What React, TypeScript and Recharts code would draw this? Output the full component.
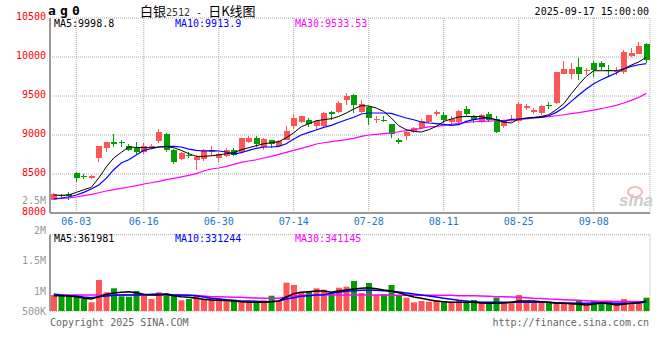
import { Bar, CartesianGrid, Cell, ComposedChart, Line, XAxis, YAxis } from 'recharts';

// trading days shown (MM-DD)
const dates = [
  '05-28', '05-29', '05-30', '06-03', '06-04', '06-05', '06-06', '06-09', '06-10', '06-11',
  '06-12', '06-13', '06-16', '06-17', '06-18', '06-19', '06-20', '06-23', '06-24', '06-25',
  '06-26', '06-27', '06-30', '07-01', '07-02', '07-03', '07-04', '07-07', '07-08', '07-09',
  '07-10', '07-11', '07-14', '07-15', '07-16', '07-17', '07-18', '07-21', '07-22', '07-23',
  '07-24', '07-25', '07-28', '07-29', '07-30', '07-31', '08-01', '08-04', '08-05', '08-06',
  '08-07', '08-08', '08-11', '08-12', '08-13', '08-14', '08-15', '08-18', '08-19', '08-20',
  '08-21', '08-22', '08-25', '08-26', '08-27', '08-28', '08-29', '09-01', '09-02', '09-03',
  '09-04', '09-05', '09-08', '09-09', '09-10', '09-11', '09-12', '09-15', '09-16', '09-17',
];

const opens = [
  8170, 8232, 8247, 8513, 8478, 8444, 8709, 8837, 8905, 8914,
  8854, 8828, 8777, 8846, 8923, 9017, 8812, 8692, 8743, 8683,
  8692, 8786, 8709, 8726, 8803, 8786, 8914, 8956, 8846, 8940,
  8863, 8940, 9110, 9170, 9196, 9110, 9119, 9290, 9299, 9444,
  9516, 9290, 9359, 9188, 9196, 9145, 8931, 8982, 9042, 9094,
  9162, 9273, 9256, 9170, 9170, 9336, 9238, 9170, 9273, 9205,
  9119, 9179, 9175, 9341, 9290, 9282, 9385, 9410, 9786, 9786,
  9872, 9820, 9919, 9919, 9833, 9803, 9803, 10008, 10042, 10162,
];
const highs = [
  8256, 8248, 8264, 8522, 8500, 8488, 8863, 8916, 9017, 8940,
  8888, 8914, 8897, 8880, 9077, 9026, 8820, 8777, 8786, 8743,
  8820, 8863, 8769, 8828, 8828, 8965, 8982, 8982, 8956, 8940,
  8931, 9119, 9273, 9238, 9213, 9196, 9290, 9308, 9436, 9538,
  9529, 9452, 9376, 9238, 9247, 9145, 8965, 9068, 9102, 9205,
  9260, 9324, 9299, 9238, 9316, 9376, 9260, 9264, 9290, 9238,
  9196, 9260, 9427, 9393, 9341, 9385, 9418, 9811, 9949, 9923,
  9991, 9854, 9949, 9949, 9897, 9872, 10085, 10110, 10187, 10179,
];
const lows = [
  8162, 8180, 8165, 8400, 8440, 8436, 8649, 8777, 8846, 8846,
  8795, 8751, 8760, 8820, 8897, 8777, 8632, 8674, 8709, 8546,
  8667, 8726, 8658, 8718, 8726, 8769, 8897, 8846, 8812, 8837,
  8854, 8931, 9077, 9154, 9102, 9068, 9085, 9196, 9282, 9385,
  9282, 9282, 9128, 9154, 9170, 8956, 8880, 8940, 9026, 9085,
  9154, 9238, 9154, 9132, 9145, 9238, 9154, 9154, 9170, 9026,
  9085, 9167, 9154, 9316, 9273, 9256, 9333, 9392, 9777, 9718,
  9709, 9773, 9744, 9837, 9744, 9769, 9786, 10000, 10033, 9923,
];
const closes = [
  8238, 8215, 8213, 8444, 8465, 8478, 8854, 8914, 8880, 8897,
  8812, 8786, 8863, 8863, 9042, 8812, 8658, 8769, 8726, 8718,
  8803, 8803, 8751, 8812, 8744, 8956, 8956, 8888, 8949, 8880,
  8923, 9051, 9213, 9238, 9145, 9179, 9282, 9264, 9410, 9495,
  9379, 9401, 9213, 9205, 9179, 9017, 8914, 9042, 9085, 9179,
  9260, 9290, 9196, 9205, 9307, 9273, 9196, 9256, 9188, 9042,
  9179, 9196, 9401, 9367, 9324, 9376, 9367, 9803, 9846, 9846,
  9786, 9837, 9833, 9876, 9816, 9820, 10068, 10051, 10145, 9965,
];

const ma5 = [
  8231, 8226, 8231, 8264, 8299, 8328, 8449, 8590, 8705, 8777,
  8846, 8841, 8837, 8837, 8846, 8850, 8837, 8803, 8760, 8726,
  8726, 8733, 8746, 8760, 8773, 8811, 8837, 8863, 8888, 8901,
  8914, 8965, 9029, 9106, 9145, 9183, 9196, 9209, 9238, 9282,
  9333, 9376, 9372, 9346, 9302, 9218, 9119, 9068, 9046, 9038,
  9068, 9110, 9174, 9205, 9231, 9238, 9238, 9235, 9218, 9196,
  9164, 9154, 9205, 9213, 9226, 9238, 9260, 9324, 9401, 9529,
  9645, 9751, 9824, 9824, 9824, 9824, 9846, 9897, 9936, 9998.8,
];
const ma10 = [
  8183, 8192, 8205, 8231, 8264, 8308, 8359, 8444, 8555, 8641,
  8683, 8744, 8803, 8824, 8846, 8854, 8854, 8846, 8820, 8803,
  8795, 8799, 8795, 8782, 8756, 8773, 8803, 8828, 8846, 8846,
  8854, 8888, 8949, 9000, 9033, 9064, 9097, 9123, 9161, 9196,
  9228, 9269, 9282, 9282, 9282, 9277, 9247, 9218, 9196, 9167,
  9154, 9145, 9136, 9123, 9132, 9174, 9196, 9213, 9218, 9196,
  9175, 9200, 9205, 9218, 9222, 9226, 9247, 9290, 9350, 9431,
  9513, 9590, 9658, 9709, 9751, 9795, 9846, 9879, 9901, 9913.9,
];
const ma30 = [
  8181, 8186, 8192, 8205, 8222, 8238, 8260, 8282, 8299, 8315,
  8333, 8350, 8372, 8388, 8405, 8427, 8444, 8462, 8482, 8504,
  8538, 8564, 8577, 8597, 8623, 8649, 8667, 8683, 8705, 8726,
  8751, 8777, 8803, 8828, 8854, 8885, 8901, 8914, 8927, 8940,
  8956, 8982, 9000, 9008, 9017, 9026, 9042, 9055, 9068, 9085,
  9103, 9110, 9123, 9136, 9149, 9162, 9170, 9174, 9179, 9183,
  9187, 9192, 9200, 9205, 9218, 9226, 9235, 9247, 9260, 9273,
  9286, 9303, 9320, 9337, 9359, 9379, 9410, 9444, 9482, 9533.53,
];

const vols = [
  507000, 490000, 490000, 466000, 408000, 327000, 879000, 574000, 673000, 475000,
  466000, 606000, 507000, 408000, 574000, 550000, 490000, 376000, 408000, 490000,
  408000, 426000, 426000, 342000, 359000, 359000, 327000, 327000, 376000, 490000,
  359000, 812000, 755000, 589000, 606000, 673000, 639000, 540000, 688000, 713000,
  854000, 557000, 804000, 507000, 525000, 755000, 490000, 441000, 327000, 359000,
  342000, 384000, 359000, 327000, 384000, 327000, 384000, 327000, 302000, 441000,
  327000, 327000, 507000, 359000, 327000, 327000, 327000, 327000, 302000, 327000,
  376000, 277000, 359000, 327000, 327000, 292000, 408000, 302000, 327000, 441000,
];
const vma5 = [
  490000, 490000, 483000, 465000, 426000, 408000, 465000, 525000, 557000, 574000,
  589000, 564000, 525000, 507000, 507000, 525000, 490000, 465000, 450000, 426000,
  401000, 384000, 376000, 366000, 359000, 342000, 327000, 327000, 327000, 342000,
  359000, 458000, 540000, 574000, 589000, 606000, 606000, 574000, 606000, 631000,
  656000, 673000, 688000, 663000, 631000, 606000, 564000, 507000, 458000, 426000,
  391000, 359000, 342000, 327000, 327000, 327000, 327000, 309000, 302000, 302000,
  309000, 327000, 359000, 359000, 359000, 342000, 327000, 302000, 302000, 292000,
  277000, 260000, 277000, 309000, 292000, 260000, 277000, 302000, 317000, 361981,
];
const vma10 = [
  532000, 507000, 490000, 483000, 458000, 441000, 465000, 483000, 500000, 507000,
  507000, 507000, 507000, 525000, 532000, 525000, 507000, 507000, 500000, 490000,
  458000, 426000, 408000, 391000, 376000, 359000, 359000, 351000, 342000, 342000,
  359000, 408000, 441000, 475000, 490000, 507000, 515000, 549000, 574000, 599000,
  614000, 624000, 631000, 624000, 614000, 599000, 582000, 557000, 532000, 507000,
  483000, 458000, 426000, 401000, 376000, 359000, 342000, 327000, 327000, 327000,
  327000, 327000, 327000, 327000, 327000, 327000, 327000, 317000, 309000, 302000,
  302000, 302000, 309000, 317000, 309000, 302000, 302000, 302000, 309000, 331244,
];
const vma30 = [
  510000, 510000, 508000, 508000, 507000, 507000, 506000, 506000, 507000, 507000,
  508000, 508000, 507000, 507000, 506000, 505000, 505000, 504000, 500000, 495000,
  483000, 465000, 465000, 458000, 450000, 450000, 441000, 433000, 426000, 426000,
  426000, 458000, 483000, 500000, 507000, 507000, 507000, 505000, 505000, 507000,
  507000, 507000, 507000, 505000, 505000, 503000, 503000, 502000, 502000, 500000,
  500000, 500000, 500000, 500000, 490000, 490000, 488000, 483000, 475000, 465000,
  465000, 458000, 450000, 441000, 426000, 420000, 408000, 401000, 391000, 384000,
  376000, 366000, 359000, 351000, 350000, 348000, 346000, 344000, 342000, 341145,
];

const dateTicks = ['06-03', '06-16', '06-30', '07-14', '07-28', '08-11', '08-25', '09-08'];
const priceTicks = [8000, 8500, 9000, 9500, 10000, 10500];
const volGridTicks = [500000, 1000000, 1500000, 2000000];
const volLabelTicks = [500000, 1000000, 1500000, 2000000, 2500000];

const rows = dates.map((d, i) => ({
  d,
  o: opens[i],
  h: highs[i],
  l: lows[i],
  c: closes[i],
  ma5: ma5[i],
  ma10: ma10[i],
  ma30: ma30[i],
  vol: vols[i],
  vma5: vma5[i],
  vma10: vma10[i],
  vma30: vma30[i],
}));

const MONO = '"DejaVu Sans Mono", monospace';
const CJK = '"Noto Sans CJK SC", sans-serif';
const UP = '#ff5555';
const DOWN = '#00a000';
const FRAME = '#999999';
const GRID = '#aaaaaa';
const VOL_PLOT_BOTTOM = 121;

const last = (a: number[]) => a[a.length - 1];

function Candle(props: any) {
  const { x, y, width, height, payload } = props;
  if (!payload) return null;
  const { o, h, l, c } = payload;
  const top = Math.min(y, y + height);
  const span = Math.abs(height);
  const py = (v: number) => (h === l ? top : top + ((h - v) / (h - l)) * span);
  const color = c >= o ? UP : DOWN;
  const rx = Math.round(x);
  const bodyTop = Math.round(py(Math.max(o, c)));
  const bodyBot = Math.round(py(Math.min(o, c)));
  return (
    <g shapeRendering="crispEdges">
      <line x1={rx + 2.5} x2={rx + 2.5} y1={Math.round(py(h))} y2={Math.round(py(l))} stroke={color} strokeWidth={1} />
      <rect x={rx} y={bodyTop} width={width} height={Math.max(1, bodyBot - bodyTop)} fill={color} />
    </g>
  );
}

function PriceTick(p: any) {
  return (
    <text x={p.x} y={p.y - 2} textAnchor="end" dominantBaseline="central" fill="#ff0000" fontSize={10} fontFamily={MONO}>
      {p.payload.value}
    </text>
  );
}

function DateTick(p: any) {
  return (
    <text x={p.x} y={p.y} textAnchor="middle" dominantBaseline="central" fill="#1a78c8" fontSize={10} fontFamily={MONO}>
      {p.payload.value}
    </text>
  );
}

function VolTick(p: any) {
  const v = p.payload.value;
  const label = v >= 1000000 ? `${v / 1000000}M` : `${v / 1000}K`;
  return (
    <text x={p.x} y={Math.min(p.y, VOL_PLOT_BOTTOM)} textAnchor="end" dominantBaseline="central" fill="#999999" fontSize={10} fontFamily={MONO}>
      {label}
    </text>
  );
}

const abs = (left: number, top: number, extra: any = {}) => ({
  position: 'absolute' as const,
  left,
  top,
  fontFamily: MONO,
  fontSize: 10,
  lineHeight: '12px',
  whiteSpace: 'pre' as const,
  ...extra,
});

export default function App() {
  return (
    <div style={{ position: 'absolute', left: 0, top: 0, width: 660, height: 360, background: '#fff', overflow: 'hidden' }}>
      <div style={abs(0, 0)}>
        <ComposedChart width={660} height={232} data={rows} margin={{ top: 18, right: 10, bottom: 0, left: 0 }}>
          <CartesianGrid stroke={GRID} strokeDasharray="1 1" />
          <XAxis
            dataKey="d"
            ticks={dateTicks}
            interval={0}
            height={19}
            tickLine={false}
            tickSize={6}
            tickMargin={2}
            axisLine={{ stroke: FRAME, strokeWidth: 2 }}
            tick={DateTick}
          />
          <XAxis xAxisId="top" dataKey="d" orientation="top" height={0} tick={false} tickLine={false} axisLine={{ stroke: FRAME }} />
          <YAxis
            domain={[8000, 10500]}
            ticks={priceTicks}
            interval={0}
            width={50}
            tickLine={false}
            tickSize={2}
            tickMargin={2}
            axisLine={{ stroke: FRAME, strokeWidth: 2 }}
            tick={PriceTick}
            allowDataOverflow
          />
          <YAxis yAxisId="r" orientation="right" domain={[8000, 10500]} width={0} tick={false} tickLine={false} axisLine={{ stroke: FRAME, strokeWidth: 2 }} />
          <Bar dataKey={(r: any) => [r.l, r.h]} shape={Candle} barSize={6} isAnimationActive={false} />
          <Line dataKey="ma30" stroke="#ff00ff" strokeWidth={1.2} dot={false} type="linear" isAnimationActive={false} />
          <Line dataKey="ma10" stroke="#0000ff" strokeWidth={1.2} dot={false} type="linear" isAnimationActive={false} />
          <Line dataKey="ma5" stroke="#000000" strokeWidth={1} dot={false} type="linear" isAnimationActive={false} />
        </ComposedChart>
      </div>

      <div style={abs(0, 190)}>
        <ComposedChart width={660} height={131} data={rows} margin={{ top: 44.7, right: 10, bottom: 10, left: 0 }}>
          <CartesianGrid yAxisId="v" stroke={GRID} strokeDasharray="1 1" />
          <XAxis dataKey="d" ticks={dateTicks} interval={0} height={0} tick={false} tickLine={false} axisLine={{ stroke: FRAME, strokeWidth: 1 }} />
          <XAxis xAxisId="top" dataKey="d" orientation="top" height={0} tick={false} tickLine={false} axisLine={{ stroke: FRAME }} />
          <YAxis
            yAxisId="lbl"
            domain={[666667, 1938333]}
            ticks={volLabelTicks}
            interval={0}
            width={50}
            tickLine={false}
            tickSize={2}
            tickMargin={2}
            axisLine={{ stroke: FRAME, strokeWidth: 2 }}
            tick={VolTick}
            allowDataOverflow
          />
          <YAxis yAxisId="v" domain={[111000, 2000000]} ticks={volGridTicks} width={0} tick={false} tickLine={false} axisLine={false} allowDataOverflow />
          <YAxis yAxisId="r" orientation="right" domain={[0, 1]} width={0} tick={false} tickLine={false} axisLine={{ stroke: FRAME, strokeWidth: 2 }} />
          <Bar yAxisId="v" dataKey="vol" barSize={6} isAnimationActive={false}>
            {rows.map((r, i) => (
              <Cell key={i} fill={r.c >= r.o ? UP : DOWN} />
            ))}
          </Bar>
          <Line yAxisId="v" dataKey="vma30" stroke="#ff00ff" strokeWidth={1.5} dot={false} isAnimationActive={false} />
          <Line yAxisId="v" dataKey="vma10" stroke="#0000ff" strokeWidth={1.5} dot={false} isAnimationActive={false} />
          <Line yAxisId="v" dataKey="vma5" stroke="#000000" strokeWidth={1.5} dot={false} isAnimationActive={false} />
        </ComposedChart>
      </div>

      {/* header */}
      <div style={abs(48, 4, { fontSize: 13, lineHeight: '14px', fontWeight: 'bold', letterSpacing: 4.2 })}>ag0</div>
      <div style={abs(140, 4, { fontFamily: CJK, fontSize: 13, lineHeight: '14px' })}>
        白银<span style={{ fontFamily: MONO, fontSize: 10, color: '#333' }}>2512 - </span>日K线图
      </div>
      <div style={{ ...abs(0, 6), left: 'auto', right: 11 }}>2025-09-17 15:00:00</div>

      {/* MA legends */}
      <div style={abs(54, 18)}>{`MA5:${last(ma5)}`}</div>
      <div style={abs(175, 18, { color: '#0000ff' })}>{`MA10:${last(ma10)}`}</div>
      <div style={abs(295, 18, { color: '#ff00ff' })}>{`MA30:${last(ma30)}`}</div>
      <div style={abs(54, 233)}>{`MA5:${last(vma5)}`}</div>
      <div style={abs(175, 233, { color: '#0000ff' })}>{`MA10:${last(vma10)}`}</div>
      <div style={abs(295, 233, { color: '#ff00ff' })}>{`MA30:${last(vma30)}`}</div>

      {/* watermark */}
      <div style={{ position: 'absolute', left: 627, top: 186, width: 12, height: 8, borderRadius: '50%', border: '2px solid #f3b8b8' }} />
      <div style={abs(619, 192, { fontFamily: '"Liberation Sans", sans-serif', fontSize: 17, lineHeight: '17px', fontWeight: 'bold', fontStyle: 'italic', color: '#cccccc' })}>sina</div>

      {/* footer */}
      <div style={abs(50, 317, { color: '#666' })}>Copyright 2025 SINA.COM</div>
      <div style={{ ...abs(0, 317, { color: '#666' }), left: 'auto', right: 11 }}>http://finance.sina.com.cn</div>
    </div>
  );
}
